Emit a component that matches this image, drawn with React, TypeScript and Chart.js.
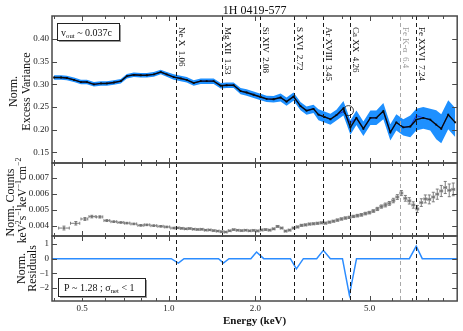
import React, { useEffect, useRef } from 'react';
import { Chart, registerables } from 'chart.js';

Chart.register(...registerables);

const SERIF = '"Liberation Serif", "Times New Roman", serif';

// ---------- data ----------
const TITLE = '1H 0419-577';

const topEnergy = [
  0.399, 0.422, 0.442, 0.468, 0.495, 0.519, 0.549, 0.581, 0.609, 0.644,
  0.681, 0.715, 0.756, 0.799, 0.839, 0.887, 0.938, 0.984, 1.041, 1.101,
  1.155, 1.221, 1.292, 1.355, 1.433, 1.516, 1.590, 1.682, 1.778, 1.866,
  1.973, 2.087, 2.190, 2.316, 2.449, 2.569, 2.717, 2.873, 3.015, 3.188,
  3.318, 3.481, 3.652, 3.831, 4.052, 4.285, 4.496, 4.754, 5.028, 5.276,
  5.579, 5.900, 6.190, 6.546, 6.923, 7.263, 7.681, 8.123, 8.521, 8.872,
  9.381, 9.920,
];
const topVar = [
  0.315, 0.315, 0.314, 0.310, 0.305, 0.305, 0.300, 0.302, 0.302, 0.304,
  0.307, 0.318, 0.321, 0.320, 0.320, 0.322, 0.327, 0.322, 0.316, 0.313,
  0.310, 0.303, 0.307, 0.307, 0.307, 0.297, 0.298, 0.298, 0.285, 0.282,
  0.277, 0.272, 0.268, 0.267, 0.271, 0.262, 0.273, 0.252, 0.242, 0.246,
  0.233, 0.228, 0.223, 0.232, 0.247, 0.205, 0.226, 0.202, 0.226, 0.226,
  0.241, 0.194, 0.216, 0.205, 0.207, 0.222, 0.226, 0.222, 0.211, 0.202,
  0.233, 0.216,
];
const topErr = [
  0.005, 0.005, 0.005, 0.005, 0.005, 0.005, 0.005, 0.005, 0.005, 0.005,
  0.005, 0.005, 0.005, 0.005, 0.005, 0.005, 0.005, 0.005, 0.006, 0.006,
  0.006, 0.006, 0.006, 0.006, 0.006, 0.006, 0.006, 0.006, 0.007, 0.007,
  0.007, 0.007, 0.007, 0.007, 0.009, 0.009, 0.009, 0.009, 0.009, 0.009,
  0.012, 0.012, 0.012, 0.012, 0.016, 0.016, 0.016, 0.016, 0.016, 0.016,
  0.018, 0.018, 0.018, 0.018, 0.024, 0.024, 0.024, 0.024, 0.032, 0.032,
  0.032, 0.032,
];
const topModel = [
  0.315, 0.315, 0.314, 0.310, 0.305, 0.305, 0.300, 0.302, 0.302, 0.304,
  0.307, 0.318, 0.321, 0.320, 0.320, 0.322, 0.327, 0.322, 0.316, 0.313,
  0.310, 0.303, 0.307, 0.307, 0.307, 0.297, 0.298, 0.298, 0.285, 0.282,
  0.277, 0.272, 0.268, 0.267, 0.271, 0.262, 0.273, 0.252, 0.242, 0.246,
  0.233, 0.228, 0.223, 0.232, 0.240, 0.215, 0.226, 0.202, 0.226, 0.226,
  0.241, 0.194, 0.216, 0.205, 0.207, 0.231, 0.226, 0.222, 0.211, 0.202,
  0.233, 0.216,
];
const circleEnergy = [4.22];
const circleVar = [0.242];

const specEnergy = [
  0.432, 0.475, 0.511, 0.540, 0.576, 0.609, 0.644, 0.681, 0.715, 0.756, 0.799, 0.839, 0.887, 0.938, 0.984, 1.041,
  1.075, 1.110, 1.146, 1.183, 1.221, 1.261, 1.302, 1.344, 1.388, 1.433,
  1.480, 1.528, 1.578, 1.629, 1.682, 1.736, 1.793, 1.851, 1.911, 1.973,
  2.038, 2.104, 2.172, 2.243, 2.316, 2.391, 2.469, 2.549, 2.632, 2.717,
  2.805, 2.897, 2.991, 3.088, 3.188, 3.292, 3.399, 3.509, 3.623, 3.741,
  3.863, 3.988, 4.118, 4.252, 4.390, 4.533, 4.680, 4.832, 4.989, 5.151,
  5.319, 5.491, 5.670, 5.854, 6.044, 6.241, 6.444, 6.653, 6.869, 7.093,
  7.323, 7.561, 7.807, 8.060, 8.322, 8.593, 8.872, 9.160, 9.458, 9.766,
];
const specCounts = [
  0.00385, 0.00415, 0.00442, 0.00457, 0.00455, 0.00432, 0.00425, 0.00420, 0.00416, 0.00411, 0.00402, 0.00405, 0.00400, 0.00396, 0.00392, 0.00385,
  0.00386, 0.00383, 0.00380, 0.00382, 0.00378, 0.00376, 0.00377, 0.00372, 0.00373, 0.00369,
  0.00366, 0.00362, 0.00360, 0.00368, 0.00375, 0.00371, 0.00369, 0.00371, 0.00368, 0.00370,
  0.00367, 0.00373, 0.00375, 0.00372, 0.00380, 0.00395, 0.00385, 0.00366, 0.00372, 0.00385,
  0.00392, 0.00402, 0.00405, 0.00410, 0.00412, 0.00415, 0.00418, 0.00416, 0.00422, 0.00428,
  0.00435, 0.00442, 0.00448, 0.00452, 0.00458, 0.00463, 0.00468, 0.00476, 0.00482, 0.00492,
  0.00505, 0.00520, 0.00530, 0.00540, 0.00558, 0.00580, 0.00605, 0.00572, 0.00556, 0.00530,
  0.00505, 0.00545, 0.00568, 0.00565, 0.00580, 0.00598, 0.00618, 0.00640, 0.00622, 0.00628,
];
const specErr = [
  0.00012, 0.00011, 0.00009, 0.00008, 0.00007, 0.00006, 0.00005, 0.00005, 0.00005, 0.00005, 0.00005, 0.00005, 0.00005, 0.00005, 0.00005, 0.00005,
  0.00004, 0.00004, 0.00004, 0.00004, 0.00004, 0.00004, 0.00004, 0.00004, 0.00004, 0.00004,
  0.00004, 0.00004, 0.00004, 0.00004, 0.00004, 0.00004, 0.00004, 0.00004, 0.00004, 0.00004,
  0.00005, 0.00005, 0.00005, 0.00005, 0.00005, 0.00005, 0.00005, 0.00005, 0.00005, 0.00005,
  0.00006, 0.00006, 0.00006, 0.00006, 0.00006, 0.00006, 0.00006, 0.00006, 0.00006, 0.00006,
  0.00007, 0.00007, 0.00007, 0.00007, 0.00007, 0.00008, 0.00008, 0.00008, 0.00008, 0.00008,
  0.00010, 0.00010, 0.00012, 0.00012, 0.00014, 0.00015, 0.00016, 0.00018, 0.00020, 0.00020,
  0.00022, 0.00024, 0.00025, 0.00028, 0.00030, 0.00032, 0.00035, 0.00038, 0.00040, 0.00040,
];

const resEnergy = [0.39, 1.02, 1.08, 1.13, 1.49, 1.55, 1.62, 1.93, 2.02, 2.14, 2.65, 2.78, 2.94, 3.27, 3.45, 3.65, 4.02, 4.25, 4.50, 6.87, 7.26, 7.62, 10.1];
const resValue = [0, 0, -0.3, 0, 0, -0.3, 0, 0, 0.45, 0, 0, -0.7, 0, 0, 0.57, 0, 0, -2.5, 0, 0, 0.85, 0, 0];

const lineEnergy = [1.06, 1.53, 2.08, 2.72, 3.45, 4.26, 6.4, 7.24];
const lineLabel = ['Ne X  1.06', 'Mg XII  1.53', 'Si XIV  2.08', 'S XVI  2.72', 'Ar XVIII  3.45', 'Ca XX  4.26', 'Fe K-\u03b1  6.4', 'Fe XXVI  7.24'];
const lineFaint = [false, false, false, false, false, false, true, false];

const xMajorTicks = [0.5, 1, 2, 5];
const xMinorTicks = [0.4, 0.6, 0.7, 0.8, 0.9, 3, 4, 6, 7, 8, 9];
const yTopTicks = [0.15, 0.2, 0.25, 0.3, 0.35, 0.4];
const yMidTicks = [0.004, 0.005, 0.006, 0.007];
const yResTicks = [-2, -1, 0, 1];

// ---------- helpers ----------
type Seg = [string, number]; // 0 normal, 1 sup, 2 sub

function drawRich(ctx: CanvasRenderingContext2D, segs: Seg[], x: number, y: number, size: number, center: boolean) {
  const widths = segs.map(([t, k]) => {
    ctx.font = `${k ? size * 0.68 : size}px ${SERIF}`;
    return ctx.measureText(t).width;
  });
  const total = widths.reduce((a, b) => a + b, 0);
  let cx = center ? x - total / 2 : x;
  ctx.textAlign = 'left';
  ctx.textBaseline = 'alphabetic';
  segs.forEach(([t, k], i) => {
    ctx.font = `${k ? size * 0.68 : size}px ${SERIF}`;
    const dy = k === 1 ? -size * 0.4 : k === 2 ? size * 0.22 : 0;
    ctx.fillText(t, cx, y + dy);
    cx += widths[i];
  });
}

function textBox(ctx: CanvasRenderingContext2D, x: number, y: number, w: number, h: number) {
  ctx.fillStyle = '#9a9a9a';
  ctx.fillRect(x + 2, y + 2, w, h);
  ctx.fillStyle = '#fff';
  ctx.fillRect(x, y, w, h);
  ctx.strokeStyle = '#222';
  ctx.lineWidth = 1;
  ctx.strokeRect(x + 0.5, y + 0.5, w, h);
}

const decorPlugin = {
  id: 'decor',
  beforeDatasetsDraw(chart: any) {
    const { ctx } = chart;
    const x = chart.scales.x;
    const y = chart.scales.yMid;
    const n = specEnergy.length;
    ctx.save();
    ctx.strokeStyle = '#7c7c7c';
    ctx.lineWidth = 1;
    ctx.beginPath();
    for (let i = 0; i < n; i++) {
      const e = specEnergy[i];
      const prev = i > 0 ? specEnergy[i - 1] : (e * e) / specEnergy[i + 1];
      const next = i < n - 1 ? specEnergy[i + 1] : (e * e) / specEnergy[i - 1];
      const pl = x.getPixelForValue(Math.sqrt(prev * e)) + 0.6;
      const ph = x.getPixelForValue(Math.sqrt(next * e)) - 0.6;
      const px = x.getPixelForValue(e);
      const py = y.getPixelForValue(specCounts[i]);
      const pt = y.getPixelForValue(specCounts[i] + specErr[i]);
      const pb = y.getPixelForValue(specCounts[i] - specErr[i]);
      ctx.moveTo(pl, py); ctx.lineTo(ph, py);
      ctx.moveTo(px, pt); ctx.lineTo(px, pb);
      ctx.moveTo(px - 1.5, pt); ctx.lineTo(px + 1.5, pt);
      ctx.moveTo(px - 1.5, pb); ctx.lineTo(px + 1.5, pb);
      ctx.moveTo(pl, py - 1.5); ctx.lineTo(pl, py + 1.5);
      ctx.moveTo(ph, py - 1.5); ctx.lineTo(ph, py + 1.5);
    }
    ctx.stroke();
    ctx.restore();
  },
  afterDatasetsDraw(chart: any) {
    const { ctx, chartArea } = chart;
    const x = chart.scales.x;
    ctx.save();
    lineEnergy.forEach((e, i) => {
      const px = Math.round(x.getPixelForValue(e)) + 0.5;
      ctx.strokeStyle = lineFaint[i] ? '#a8a8a8' : '#1a1a1a';
      ctx.lineWidth = 1;
      ctx.setLineDash([4, 3]);
      ctx.beginPath();
      ctx.moveTo(px, chartArea.top);
      ctx.lineTo(px, chartArea.bottom);
      ctx.stroke();
      ctx.setLineDash([]);
      ctx.save();
      ctx.translate(px + 2, 27);
      ctx.rotate(Math.PI / 2);
      ctx.fillStyle = lineFaint[i] ? '#999' : '#111';
      ctx.font = `9px ${SERIF}`;
      ctx.textAlign = 'left';
      ctx.textBaseline = 'alphabetic';
      ctx.fillText(lineLabel[i], 0, 0);
      ctx.restore();
    });
    ctx.restore();
  },
  afterDraw(chart: any) {
    const { ctx, chartArea } = chart;
    const { left, right } = chartArea;
    const x = chart.scales.x;
    ctx.save();
    ctx.strokeStyle = '#4a4a4a';
    ['yTop', 'yMid', 'yRes'].forEach((id) => {
      const s = chart.scales[id];
      ctx.lineWidth = 1;
      ctx.beginPath();
      s.ticks.forEach((t: any) => {
        const py = Math.round(s.getPixelForValue(t.value)) + 0.5;
        ctx.moveTo(left, py); ctx.lineTo(left + 5, py);
        ctx.moveTo(right, py); ctx.lineTo(right - 5, py);
      });
      xMajorTicks.forEach((v) => {
        const px = Math.round(x.getPixelForValue(v)) + 0.5;
        ctx.moveTo(px, s.top); ctx.lineTo(px, s.top + 5);
        ctx.moveTo(px, s.bottom); ctx.lineTo(px, s.bottom - 5);
      });
      xMinorTicks.forEach((v) => {
        const px = Math.round(x.getPixelForValue(v)) + 0.5;
        ctx.moveTo(px, s.top); ctx.lineTo(px, s.top + 3);
        ctx.moveTo(px, s.bottom); ctx.lineTo(px, s.bottom - 3);
      });
      ctx.stroke();
      ctx.lineWidth = 1.5;
      ctx.strokeRect(left, s.top, right - left, s.bottom - s.top);
    });

    // title and x label
    ctx.fillStyle = '#111';
    ctx.textAlign = 'center';
    ctx.textBaseline = 'alphabetic';
    ctx.font = `12px ${SERIF}`;
    ctx.fillText(TITLE, (left + right) / 2, 14);
    ctx.font = `bold 11px ${SERIF}`;
    ctx.fillText('Energy (keV)', (left + right) / 2, 324);

    // y titles
    const yt = chart.scales.yTop, ym = chart.scales.yMid, yr = chart.scales.yRes;
    const vtext = (lines: [Seg[], number][], cy: number, size: number) => {
      lines.forEach(([segs, cx]) => {
        ctx.save();
        ctx.translate(cx, cy);
        ctx.rotate(-Math.PI / 2);
        drawRich(ctx, segs, 0, size * 0.35, size, true);
        ctx.restore();
      });
    };
    vtext([[[['Norm.', 0]], 13], [[['Excess Variance', 0]], 26]], (yt.top + yt.bottom) / 2 + 2, 12);
    vtext([[[['Norm. Counts', 0]], 9.5]], (ym.top + ym.bottom) / 2 + 3, 12);
    vtext([[[['keV', 0], ['2', 1], ['s', 0], ['\u22121', 1], ['keV', 0], ['\u22121', 1], ['cm', 0], ['\u22122', 1]], 21.5]], (ym.top + ym.bottom) / 2 + 1, 11.5);
    vtext([[[['Norm.', 0]], 21], [[['Residuals', 0]], 32]], (yr.top + yr.bottom) / 2, 12);

    // annotation boxes
    textBox(ctx, 57, 23, 62, 17);
    ctx.fillStyle = '#111';
    drawRich(ctx, [['v', 0], ['out', 2], [' ~ 0.037c', 0]], 61, 35.5, 10, false);
    textBox(ctx, 58, 278, 87, 18);
    ctx.fillStyle = '#111';
    drawRich(ctx, [['P ~ 1.28 ; \u03c3', 0], ['net', 2], [' < 1', 0]], 64, 290.5, 10, false);
    ctx.restore();
  },
};

function buildConfig(): any {
  const tickFont = { family: SERIF, size: 9 };
  const noGrid = { display: false, drawTicks: false, tickLength: 0 };
  const yCommon = (ticks: number[], fmt: (v: number) => string) => ({
    type: 'linear',
    position: 'left',
    stack: 'panels',
    grid: noGrid,
    border: { display: false },
    afterBuildTicks: (s: any) => { s.ticks = ticks.map((v) => ({ value: v })); },
    afterFit: (s: any) => { s.width = 52; },
    ticks: { callback: (v: any) => fmt(Number(v)), font: tickFont, color: '#222', padding: 3, autoSkip: false },
  });
  return {
    type: 'line',
    data: {
      datasets: [
        {
          data: topEnergy.map((x, i) => ({ x, y: topVar[i] + topErr[i] })),
          yAxisID: 'yTop', borderWidth: 0, pointRadius: 0, backgroundColor: '#1e90ff',
          fill: '+1', order: 10,
        },
        {
          data: topEnergy.map((x, i) => ({ x, y: topVar[i] - topErr[i] })),
          yAxisID: 'yTop', borderWidth: 0, pointRadius: 0, fill: false, order: 11,
        },
        {
          data: topEnergy.map((x, i) => ({ x, y: topModel[i] })),
          yAxisID: 'yTop', borderColor: '#1530e0', borderWidth: 1, pointRadius: 0, fill: false, order: 3,
        },
        {
          data: topEnergy.map((x, i) => ({ x, y: topVar[i] })),
          yAxisID: 'yTop', borderColor: '#0a0a0a', borderWidth: 1.4, pointRadius: 1.3, pointStyle: 'rect',
          pointBackgroundColor: '#0a0a0a', pointBorderWidth: 0, fill: false, order: 2,
        },
        {
          data: circleEnergy.map((x, i) => ({ x, y: circleVar[i] })),
          yAxisID: 'yTop', showLine: false, pointRadius: 5, pointStyle: 'circle', pointBorderColor: '#111',
          pointBorderWidth: 0.8, pointBackgroundColor: 'rgba(0,0,0,0)', order: 1,
        },
        {
          data: specEnergy.map((x, i) => ({ x, y: specCounts[i] })),
          yAxisID: 'yMid', showLine: false, pointRadius: 1.2, pointStyle: 'rect',
          pointBackgroundColor: '#707070', pointBorderWidth: 0, order: 4,
        },
        {
          data: resEnergy.map((x, i) => ({ x, y: resValue[i] })),
          yAxisID: 'yRes', borderColor: '#2b8cff', borderWidth: 1.5, pointRadius: 0, fill: false, order: 4,
        },
      ],
    },
    options: {
      responsive: false,
      animation: false,
      devicePixelRatio: 1,
      layout: { padding: { top: 16, right: 4, left: 0, bottom: 0 } },
      plugins: { legend: { display: false }, tooltip: { enabled: false }, title: { display: false } },
      scales: {
        x: {
          type: 'logarithmic',
          position: 'bottom',
          min: 0.3925,
          max: 10.08,
          grid: noGrid,
          border: { display: false },
          afterBuildTicks: (s: any) => { s.ticks = xMajorTicks.map((v) => ({ value: v })); },
          afterFit: (s: any) => { s.height = 30; },
          ticks: { callback: (v: any) => Number(v).toFixed(1), font: tickFont, color: '#222', padding: 2, autoSkip: false, maxRotation: 0 },
        },
        yTop: { ...yCommon(yTopTicks, (v) => v.toFixed(2)), min: 0.1264, max: 0.4508, stackWeight: 147, weight: 3 },
        yMid: { ...yCommon(yMidTicks, (v) => v.toFixed(3)), min: 0.00335, max: 0.00794, stackWeight: 73, weight: 2 },
        yRes: { ...yCommon(yResTicks, (v) => (v < 0 ? '\u2212' + Math.abs(v) : String(v))), min: -2.9, max: 1.55, stackWeight: 65, weight: 1 },
      },
    },
    plugins: [decorPlugin],
  };
}

export default function App() {
  const ref = useRef<HTMLCanvasElement>(null);
  useEffect(() => {
    const chart = new Chart(ref.current as HTMLCanvasElement, buildConfig());
    return () => chart.destroy();
  }, []);
  return (
    <div style={{ position: 'absolute', left: 0, top: 0, width: 463, height: 331, background: '#fff' }}>
      <canvas ref={ref} width={463} height={331} style={{ display: 'block', width: 463, height: 331 }} />
    </div>
  );
}
